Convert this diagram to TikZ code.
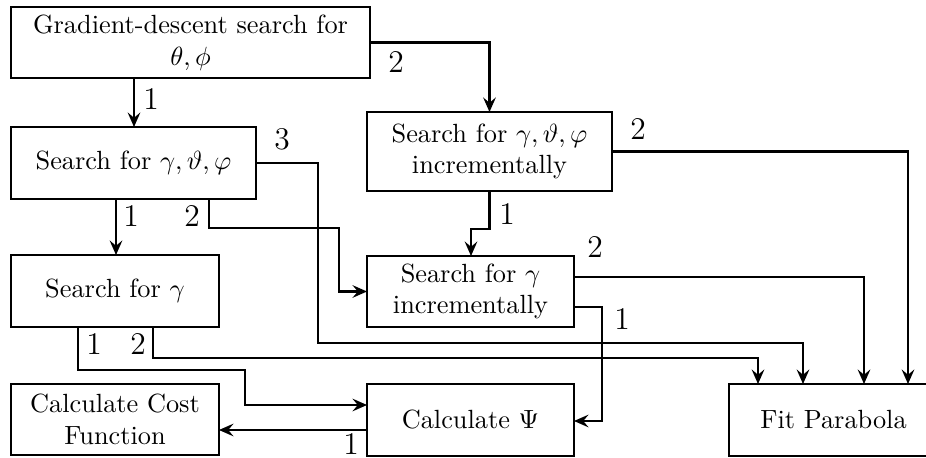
\documentclass[tikz,border=0pt]{standalone}
\usetikzlibrary{arrows.meta}
\begin{document}
\begin{tikzpicture}[x=0.38pt,y=-0.38pt,
  every node/.style={inner sep=0pt, outer sep=0pt},
  box/.style={draw, line width=0.8pt, align=center},
  lbl/.style={font=\large},
  link/.style={line width=0.8pt, -{Stealth[length=5.5pt,width=4.8pt,inset=2pt]}}]
\useasboundingbox (0,0) rectangle (926,458);
\clip (0,0) rectangle (926,458);

% process boxes
\node[box, minimum width=359*0.38pt, minimum height=71*0.38pt] (A) at (190.5,42.5)
  {Gradient-descent search for\\ $\theta,\phi$};
\node[box, minimum width=245*0.38pt, minimum height=72*0.38pt] (B) at (133.5,163)
  {Search for $\gamma,\vartheta,\varphi$};
\node[box, minimum width=245*0.38pt, minimum height=79*0.38pt] (G) at (489.5,151.5)
  {Search for $\gamma,\vartheta,\varphi$\\ incrementally};
\node[box, minimum width=208*0.38pt, minimum height=72*0.38pt] (C) at (115,291)
  {Search for $\gamma$};
\node[box, minimum width=207*0.38pt, minimum height=71*0.38pt] (D) at (470.5,291.5)
  {Search for $\gamma$\\ incrementally};
\node[box, minimum width=208*0.38pt, minimum height=71*0.38pt] (F) at (115,419.5)
  {Calculate Cost\\ Function};
\node[box, minimum width=207*0.38pt, minimum height=72*0.38pt] (E) at (470.5,420)
  {Calculate $\Psi$};
\node[box, minimum width=209*0.38pt, minimum height=72*0.38pt] (H) at (833.5,420)
  {Fit Parabola};

% connectors
\draw[link] (134,0 |- A.south) -- (134,0 |- B.north);
\draw[link] (A.east) -| (G.north);
\draw[link] (116,0 |- B.south) -- (116,0 |- C.north);
\draw[link] (209,0 |- B.south) |- (339,228) |- (D.west);
\draw[link] (B.east) -| (318,343) -| (803,0 |- H.north);
\draw[link] (G.south) -- (489.5,229) -| (471,0 |- D.north);
\draw[link] (G.east) -| (908,0 |- H.north);
\draw[link] (D.east |- 0,277) -| (864,0 |- H.north);
\draw[link] (D.east |- 0,307) -| (602,421) -- (E.east |- 0,421);
\draw[link] (78,0 |- C.south) |- (245,370) |- (E.west |- 0,405);
\draw[link] (153,0 |- C.south) |- (758,358) -- (758,0 |- H.north);
\draw[link] (E.west |- 0,430) -- (F.east |- 0,430);

% branch numbers
\node[lbl] (n1) at (151,99) {1};
\node[lbl] (n2) at (396,62) {2};
\node[lbl] (n3) at (282,139) {3};
\node[lbl] (n4) at (131,216) {1};
\node[lbl] (n5) at (192,216) {2};
\node[lbl] (n6) at (638,129) {2};
\node[lbl] (n7) at (507,214) {1};
\node[lbl] (n8) at (595,247) {2};
\node[lbl] (n9) at (622,319) {1};
\node[lbl] (n10) at (94,344) {1};
\node[lbl] (n11) at (138,344) {2};
\node[lbl] (n12) at (351,444) {1};
\end{tikzpicture}
\end{document}
